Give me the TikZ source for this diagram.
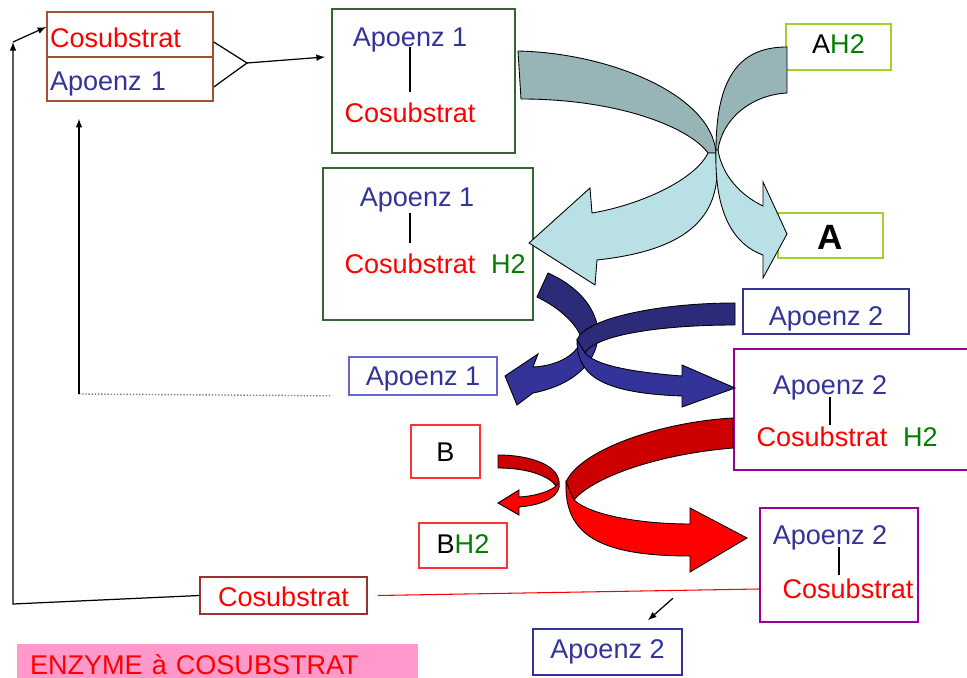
\documentclass[tikz,border=0pt]{standalone}
\usepackage{fontspec}
\setmainfont{Liberation Sans}
\usepackage{tikz}
\usetikzlibrary{positioning}

\definecolor{brownbox}{RGB}{160,82,45}
\definecolor{greenbox}{RGB}{51,102,51}
\definecolor{limebox}{RGB}{160,210,40}
\definecolor{apoblue}{RGB}{51,51,153}
\definecolor{lightapo}{RGB}{102,102,204}
\definecolor{purplebox}{RGB}{153,0,153}
\definecolor{redbox}{RGB}{255,51,51}
\definecolor{darkredbox}{RGB}{153,51,51}
\definecolor{h2green}{RGB}{0,128,0}
\definecolor{pinkband}{RGB}{255,153,204}
\definecolor{tealback}{RGB}{151,181,182}
\definecolor{tealfront}{RGB}{185,224,228}
\definecolor{navyback}{RGB}{43,43,122}
\definecolor{navyfront}{RGB}{51,51,153}
\definecolor{redback}{RGB}{204,0,0}
\definecolor{redfront}{RGB}{255,0,0}

\begin{document}
\begin{tikzpicture}[x=0.02cm, y=-0.02cm,
    font=\fontsize{15.4}{18}\selectfont,
    box/.style={rectangle, draw, line width=0.9pt},
    txt/.style={inner sep=0pt, text height=11pt, text depth=0pt},
    ribbon/.style={draw=black, line width=0.5pt},
    link/.style={line width=0.7pt}]
    \clip (0,0) rectangle (967,678);

    % Free enzyme
    \node[box, draw=brownbox, txt, text height=15pt, inner xsep=0.06cm, text width=3.2cm, align=left, minimum height=0.9cm, text=red] (COSA) at (130,34.5) {Cosubstrat};
    \node[box, draw=brownbox, txt, text height=13.3pt, inner xsep=0.06cm, text width=3.2cm, align=left, minimum height=0.88cm, text=apoblue] (APOA) at (130,79) {Apoenz 1};

    % Apoenzyme 1 complexes
    \node[box, draw=greenbox, minimum width=3.66cm, minimum height=2.88cm] (BOX1) at (423.5,81) {};
    \node[txt, text=apoblue] (A1) at (410,37) {Apoenz 1};
    \node[txt, text=red] (C1) at (410,113) {Cosubstrat};

    \node[box, draw=greenbox, minimum width=4.2cm, minimum height=3.04cm] (BOX2) at (428,244) {};
    \node[txt, text=apoblue] (A2) at (417,197) {Apoenz 1};
    \node[txt, text=red] (C2) at (410,264) {Cosubstrat};
    \node[txt, text=h2green, right=0.3cm of C2] (H2b) {H2};

    % Substrate A
    \node[box, draw=limebox, txt, text height=7.6pt, minimum width=2.1cm, minimum height=0.92cm] (AH2) at (838.5,47) {A{\color{h2green}H2}};
    \node[box, draw=limebox, txt, text height=16pt, minimum width=2.1cm, minimum height=0.9cm, font=\fontsize{20}{24}\selectfont\bfseries] (ABOX) at (830.5,235.5) {A};

    % Apoenzyme 2 side
    \node[box, draw=apoblue, txt, text height=16.1pt, minimum width=3.32cm, minimum height=0.9cm, text=apoblue] (APO2U) at (826,311.5) {Apoenz 2};
    \node[box, draw=lightapo, txt, minimum width=2.96cm, minimum height=0.76cm, text=apoblue] (APO1L) at (423,376) {Apoenz 1};

    \node[box, draw=purplebox, minimum width=4.82cm, minimum height=2.42cm] (BOX3) at (854.5,409.5) {};
    \node[txt, text=apoblue] (A3) at (830,385) {Apoenz 2};
    \node[txt, text=red] (C3) at (822,437) {Cosubstrat};
    \node[txt, text=h2green, right=0.3cm of C3] (H2c) {H2};

    % Substrate B
    \node[box, draw=redbox, txt, minimum width=1.38cm, minimum height=1.06cm] (BBOX) at (445.5,451.5) {B};
    \node[box, draw=redbox, txt, text height=9.3pt, minimum width=1.76cm, minimum height=0.9cm] (BH2) at (463,545.5) {B{\color{h2green}H2}};

    \node[box, draw=purplebox, minimum width=3.16cm, minimum height=2.28cm] (BOX4) at (839,565) {};
    \node[txt, text=apoblue] (A4) at (830,535) {Apoenz 2};
    \node[txt, text=red] (C4) at (848,589) {Cosubstrat};

    % Released parts
    \node[box, draw=darkredbox, txt, text height=12.7pt, minimum width=3.34cm, minimum height=0.74cm, text=red] (COS5) at (283.5,595.5) {Cosubstrat};
    \node[box, draw=apoblue, txt, text height=7.6pt, minimum width=2.98cm, minimum height=0.92cm, text=apoblue] (APO2B) at (607.5,652) {Apoenz 2};

    \node[fill=pinkband, txt, inner xsep=0.26cm, text width=7.5cm, align=left, minimum height=0.84cm, text=red] (TITLE) at (217.5,665) {ENZYME à COSUBSTRAT};

    % Bonds inside complexes
    \draw[link, shorten >=0.22cm] (A1.south) -- (C1.north);
    \draw[link, shorten <=0.12cm, shorten >=0.22cm] (A2.south -| C2.north) -- (C2.north);
    \draw[link, shorten <=0.04cm, shorten >=0.04cm] (A3.south) -- (A3.south |- C3.north);
    \draw[link, shorten <=0.04cm, shorten >=0.08cm] (A4.south -| BOX4) -- (C4.north -| BOX4);

    % Connections
    \coordinate (JOIN) at (247,63);
    \coordinate (IN1) at (325,57);
    \draw[link] ([yshift=-0.15cm]COSA.east) -- (JOIN) -- ([yshift=-0.16cm]APOA.east);
    \draw[link, -latex] (JOIN) -- (IN1);

    \coordinate (LB) at (13,604);
    \coordinate (LT) at (13,42);
    \draw[link, -latex] (COS5.west) -- (LB) -- (LT);
    \draw[link, -latex] (LT) -- ([yshift=0.15cm]COSA.west);

    \coordinate (DL) at (79,394);
    \draw[densely dotted, gray, line width=0.8pt] ([xshift=-0.36cm]APO1L.south west) -- (DL);
    \draw[link, -latex, shorten >=0.34cm] (DL) -- (DL |- APOA.south);

    \draw[red, line width=0.6pt] ([yshift=-0.48cm]BOX4.west) -- ([xshift=0.2cm]COS5.east);
    \draw[link, -latex] ([shift={(1.31cm,0.6cm)}]APO2B.north) -- ([shift={(0.81cm,0.16cm)}]APO2B.north);

    % AH2 -> A coupled with cosubstrate reduction
    \path[ribbon, fill=tealback] (518,51) .. controls (610,53) and (712,95) .. (716,153) -- (708,153) .. controls (690,128) and (620,99) .. (521,99) -- cycle;
    \path[ribbon, fill=tealfront] (716,153) .. controls (724,215) and (690,250) .. (597,260) -- (595,285) -- (529,243) -- (590,188) -- (592,213) .. controls (640,205) and (695,180) .. (708,153) -- cycle;
    \path[ribbon, fill=tealback] (787,47) .. controls (745,47) and (716,70) .. (716,150) -- (718,150) .. controls (722,120) and (750,95) .. (787,93) -- cycle;
    \path[ribbon, fill=tealfront] (716,150) .. controls (714,215) and (735,245) .. (763,255) -- (763,278) -- (787,234) -- (763,182) -- (763,206) .. controls (740,195) and (722,175) .. (718,150) -- cycle;

    % Transfer to apoenzyme 2
    \path[ribbon, fill=navyback] (548,273) .. controls (575,285) and (595,305) .. (598,330) -- (582,340) .. controls (578,325) and (560,308) .. (537,297) -- cycle;
    \path[ribbon, fill=navyfront] (598,330) .. controls (600,360) and (575,385) .. (533,393) -- (517,405) -- (505,376) -- (538,354) -- (533,367) .. controls (555,366) and (575,357) .. (582,340) -- cycle;
    \path[ribbon, fill=navyback] (735,303) .. controls (660,303) and (585,318) .. (577,340) -- (585,353) .. controls (595,335) and (660,325) .. (735,325) -- cycle;
    \path[ribbon, fill=navyfront] (577,340) .. controls (577,375) and (600,393) .. (682,396) -- (682,407) -- (735,388) -- (682,365) -- (682,376) .. controls (630,372) and (595,365) .. (585,353) -- cycle;

    % B -> BH2 coupled with cosubstrate oxidation
    \path[ribbon, fill=redback] (498,455) .. controls (530,455) and (558,465) .. (559,482) -- (556,486) .. controls (550,477) and (530,468) .. (498,468) -- cycle;
    \path[ribbon, fill=redfront] (559,482) .. controls (562,495) and (545,505) .. (519,507) -- (519,515) -- (498,503) -- (519,490) -- (519,497) .. controls (538,496) and (552,490) .. (556,486) -- cycle;
    \path[ribbon, fill=redback] (733,418) .. controls (660,422) and (580,450) .. (566,482) -- (574,500) .. controls (590,480) and (650,455) .. (733,448) -- cycle;
    \path[ribbon, fill=redfront] (566,482) .. controls (564,535) and (600,556) .. (690,556) -- (690,572) -- (747,538) -- (690,508) -- (690,524) .. controls (640,524) and (590,515) .. (574,500) -- cycle;
\end{tikzpicture}
\end{document}
